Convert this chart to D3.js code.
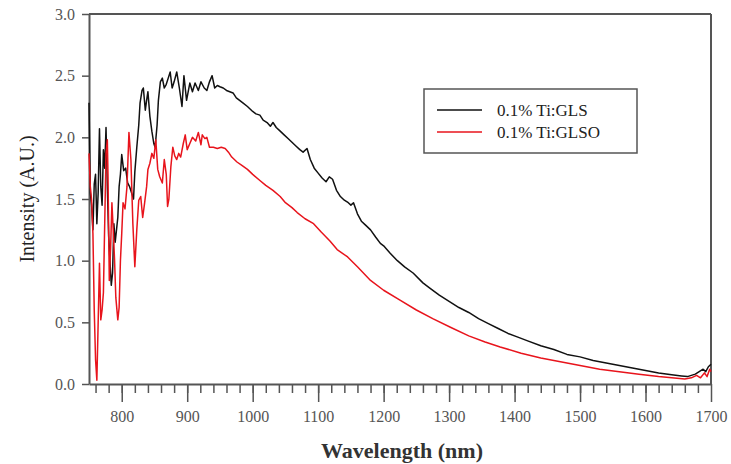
<!DOCTYPE html>
<html>
<head>
<meta charset="utf-8">
<script src="https://cdn.jsdelivr.net/npm/d3@7"></script>
<style>
  body { margin: 0; background: #fff; }
  .axis text { font-family: "Liberation Serif", "Times New Roman", serif; font-size: 16px; fill: #555; }
  .axis path, .axis line { stroke: #555; }
</style>
</head>
<body>
<script>
// 0.1% Ti:GLS (black)
var glsWavelength = [750,752,754,756,758,760,762,764,766,768,770,772,774,776,778,780,782,784,786,788,790,792,794,796,798,
  800,803,806,809,812,815,818,820,823,826,828,831,833,836,838,840,843,846,849,851,854,856,859,862,865,868,871,874,877,880,
  884,888,892,895,899,904,908,912,917,921,926,930,934,938,942,946,950,955,960,965,970,975,980,985,992,1000,1005,1011,1016,
  1022,1027,1031,1036,1042,1048,1054,1060,1066,1072,1077,1083,1088,1094,1100,1106,1112,1117,1122,1128,1134,1140,1146,1150,
  1154,1160,1166,1172,1180,1188,1195,1200,1210,1221,1232,1245,1260,1270,1285,1300,1315,1330,1345,1360,1375,1390,1405,1420,
  1440,1460,1480,1500,1520,1540,1560,1580,1600,1620,1640,1655,1664,1670,1676,1682,1688,1692,1696,1700];
var glsIntensity = [2.28,1.55,1.45,1.25,1.62,1.70,1.30,1.55,2.07,1.60,1.45,1.90,1.75,2.08,1.60,1.20,1.00,0.80,0.90,1.30,1.15,1.25,1.35,1.60,1.70,
  1.86,1.73,1.75,1.63,1.60,1.55,1.50,1.72,1.92,2.10,2.28,2.38,2.40,2.22,2.30,2.37,2.17,2.05,1.95,1.92,2.10,2.30,2.45,2.48,2.40,2.43,
  2.48,2.53,2.40,2.45,2.53,2.40,2.25,2.50,2.30,2.44,2.37,2.44,2.38,2.45,2.40,2.38,2.45,2.50,2.40,2.42,2.41,2.40,2.38,2.37,2.36,
  2.32,2.30,2.28,2.25,2.21,2.19,2.18,2.14,2.12,2.09,2.12,2.08,2.05,2.02,1.99,1.96,1.93,1.90,1.88,1.91,1.82,1.75,1.71,1.67,1.64,
  1.68,1.66,1.57,1.52,1.49,1.47,1.45,1.47,1.38,1.32,1.29,1.25,1.19,1.14,1.12,1.06,1.00,0.95,0.90,0.82,0.78,0.72,0.67,0.62,0.58,
  0.53,0.49,0.45,0.41,0.38,0.35,0.31,0.28,0.24,0.22,0.19,0.17,0.15,0.13,0.11,0.09,0.075,0.065,0.06,0.07,0.08,0.10,0.12,0.10,0.14,0.16];

// 0.1% Ti:GLSO (red)
var glsoWavelength = [750,752,754,756,758,760,762,764,766,768,770,772,774,776,778,779,781,783,785,787,789,791,794,796,798,
  800,802,805,808,811,814,817,820,823,826,829,832,835,838,840,843,846,849,852,855,858,862,865,868,870,872,875,878,881,884,
  887,890,894,897,900,904,908,913,917,921,923,927,930,934,940,946,952,958,963,968,976,984,992,1000,1011,1020,1031,1042,1050,
  1060,1068,1080,1093,1105,1118,1129,1145,1160,1180,1200,1225,1250,1275,1302,1330,1355,1378,1410,1440,1470,1500,1530,1560,
  1590,1620,1640,1660,1670,1678,1684,1690,1694,1698,1700];
var glsoIntensity = [1.87,1.60,1.49,1.22,0.60,0.20,0.03,0.50,0.98,0.52,0.60,0.74,1.30,1.87,1.98,1.70,0.84,1.10,1.47,1.25,1.01,0.70,0.52,0.62,1.00,
  1.22,1.47,1.42,1.60,2.04,1.82,1.30,0.95,1.25,1.49,1.52,1.35,1.47,1.60,1.74,1.79,1.87,1.83,1.98,1.74,1.68,1.63,1.82,1.70,1.44,
  1.50,1.76,1.92,1.85,1.82,1.87,1.84,1.95,2.02,1.90,1.95,2.00,1.97,2.04,1.94,2.02,1.99,2.00,1.92,1.92,1.91,1.92,1.91,1.88,1.84,
  1.80,1.77,1.74,1.70,1.65,1.61,1.57,1.52,1.47,1.43,1.39,1.34,1.30,1.23,1.16,1.09,1.03,0.95,0.84,0.76,0.68,0.60,0.53,0.46,0.39,
  0.34,0.30,0.25,0.21,0.18,0.15,0.12,0.10,0.08,0.06,0.05,0.04,0.05,0.07,0.05,0.09,0.06,0.12,0.10];

var seriesNames = ["0.1% Ti:GLS", "0.1% Ti:GLSO"];
var seriesColors = ["#111111", "#e8141c"];
var xTicks = [800, 900, 1000, 1100, 1200, 1300, 1400, 1500, 1600, 1700];
var yTicks = [0.0, 0.5, 1.0, 1.5, 2.0, 2.5, 3.0];

var margin = {top: 14, right: 20, bottom: 80, left: 89},
    width = 731 - margin.left - margin.right,
    height = 464 - margin.top - margin.bottom;

var x = d3.scaleLinear().domain([750, 1700]).range([0, width]);
var y = d3.scaleLinear().domain([0, 3]).range([height, 0]);

var svg = d3.select("body").append("svg")
    .attr("width", 731)
    .attr("height", 464)
  .append("g")
    .attr("transform", "translate(" + margin.left + "," + margin.top + ")");

// frame (top and right)
svg.append("line").attr("x1", 0).attr("x2", width).attr("y1", 0).attr("y2", 0)
    .attr("stroke", "#555").attr("stroke-width", 2);
svg.append("line").attr("x1", width).attr("x2", width).attr("y1", 0).attr("y2", height)
    .attr("stroke", "#555").attr("stroke-width", 2);

// minor x ticks
svg.append("g")
    .attr("class", "axis")
    .attr("transform", "translate(0," + height + ")")
    .call(d3.axisBottom(x).tickValues(d3.range(760, 1700, 20)).tickSize(9).tickFormat(""))
    .call(g => g.select(".domain").remove())
    .selectAll("line").attr("stroke-width", 1.5);

var xAxis = svg.append("g")
    .attr("class", "axis")
    .attr("transform", "translate(0," + height + ")")
    .call(d3.axisBottom(x).tickValues(xTicks).tickSize(18).tickPadding(9).tickSizeOuter(0)
      .tickFormat(d3.format("d")));
xAxis.select(".domain").attr("stroke-width", 2);
xAxis.selectAll("line").attr("stroke-width", 1.5);

var yAxis = svg.append("g")
    .attr("class", "axis")
    .call(d3.axisLeft(y).tickValues(yTicks).tickSize(7).tickPadding(7).tickSizeOuter(0)
      .tickFormat(d3.format(".1f")));
yAxis.select(".domain").attr("stroke-width", 2);
yAxis.selectAll("line").attr("stroke-width", 1.5);

var line = d3.line()
    .x(function(d) { return x(d[0]); })
    .y(function(d) { return y(d[1]); });

var glsData = glsWavelength.map(function(w, i) { return [w, glsIntensity[i]]; });
var glsoData = glsoWavelength.map(function(w, i) { return [w, glsoIntensity[i]]; });

svg.append("path").datum(glsData)
    .attr("fill", "none").attr("stroke", seriesColors[0]).attr("stroke-width", 1.5)
    .attr("stroke-linejoin", "round")
    .attr("d", line);
svg.append("path").datum(glsoData)
    .attr("fill", "none").attr("stroke", seriesColors[1]).attr("stroke-width", 1.5)
    .attr("stroke-linejoin", "round")
    .attr("d", line);

// axis titles
svg.append("text")
    .attr("x", 402 - margin.left)
    .attr("y", 458 - margin.top)
    .attr("text-anchor", "middle")
    .style("font-family", "Liberation Serif, serif")
    .style("font-weight", "bold")
    .style("font-size", "22px")
    .attr("fill", "#333")
    .text("Wavelength (nm)");

svg.append("text")
    .attr("transform", "translate(" + (-55) + "," + (height / 2) + ") rotate(-90)")
    .attr("text-anchor", "middle")
    .style("font-family", "Liberation Serif, serif")
    .style("font-size", "20px")
    .attr("fill", "#222")
    .text("Intensity (A.U.)");

// legend
var legend = svg.append("g").attr("transform", "translate(" + (424 - margin.left) + "," + (89 - margin.top) + ")");
legend.append("rect")
    .attr("width", 213).attr("height", 64)
    .attr("fill", "#fff").attr("stroke", "#555").attr("stroke-width", 1.5);
seriesNames.forEach(function(name, i) {
    var ly = 21 + i * 22;
    legend.append("line")
        .attr("x1", 13).attr("x2", 58).attr("y1", ly).attr("y2", ly)
        .attr("stroke", seriesColors[i]).attr("stroke-width", 1.5);
    legend.append("text")
        .attr("x", 73).attr("y", ly)
        .attr("dy", "0.35em")
        .style("font-family", "Liberation Serif, serif")
        .style("font-size", "17px")
        .attr("fill", "#222")
        .text(name);
});
</script>
</body>
</html>
